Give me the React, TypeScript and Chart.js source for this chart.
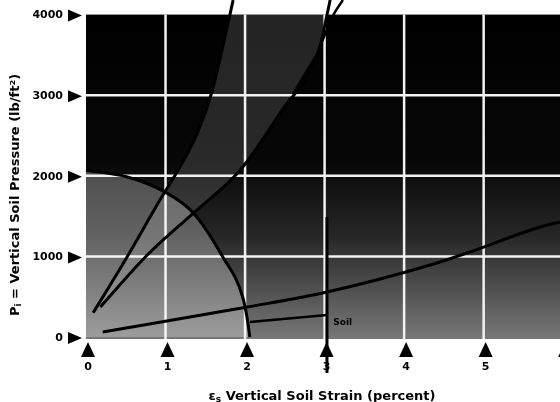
import React, { useEffect, useRef } from "react";
import { Chart, registerables } from "chart.js";
Chart.register(...registerables);

// Axis ticks
const xTicks = [0, 1, 2, 3, 4, 5, 6];
const xTickLabels = ["0", "1", "2", "3", "4", "5", ""];
const yTicks = [0, 1000, 2000, 3000, 4000];
const yTickLabels = ["0", "1000", "2000", "3000", "4000"];

// Curves (strain %, pressure lb/ft²)
const steepX = [0.09, 0.52, 0.93, 1.18, 1.4, 1.58, 1.71, 1.81, 1.85];
const steepP = [300, 1000, 1700, 2110, 2530, 3030, 3560, 4000, 4180];

const midX = [0.18, 0.77, 1.35, 1.94, 2.44, 2.94, 3.03, 3.07];
const midP = [372, 1017, 1538, 2072, 2779, 3598, 3995, 4181];

const branchX = [2.94, 3.11, 3.23];
const branchP = [3598, 3995, 4181];

const archX = [0, 0.52, 0.99, 1.35, 1.72, 1.97, 2.03, 2.06];
const archP = [2070, 1985, 1800, 1538, 993, 496, 211, 0];

const lowX = [0.21, 2.03, 3.03, 4.33, 4.79, 5.71, 5.96];
const lowP = [62, 372, 558, 893, 1042, 1365, 1427];

const soilX = [2.06, 3.03];
const soilP = [186, 273];
const soilLabel = "Soil";

const vertX = [3.03, 3.03];
const vertP = [1490, -447];

const xTitle = "Vertical Soil Strain (percent)";
const yTitle = " = Vertical Soil Pressure (lb/ft²)";

const pts = (xs: number[], ps: number[]) => xs.map((x, i) => ({ x, y: ps[i] }));

const FONT = "'DejaVu Sans', 'Liberation Sans', Arial, sans-serif";

const decor = {
  id: "decor",
  beforeDatasetsDraw(chart: any) {
    const { ctx, scales } = chart;
    const xs = scales.x, ys = scales.y;
    const left = xs.getPixelForValue(0);
    const right = xs.getPixelForValue(6.5);
    const top = ys.getPixelForValue(4000);
    const bottom = ys.getPixelForValue(0) + 2;
    ctx.save();
    const g = ctx.createLinearGradient(0, top, 0, bottom);
    g.addColorStop(0, "#000000");
    g.addColorStop(0.45, "#070707");
    g.addColorStop(0.68, "#262626");
    g.addColorStop(0.84, "#4e4e4e");
    g.addColorStop(1, "#787878");
    ctx.fillStyle = g;
    ctx.fillRect(left, top, right - left, bottom - top);

    // lighter speckled band between the two rising curves
    ctx.beginPath();
    steepX.forEach((x, i) => {
      const px = xs.getPixelForValue(x), py = ys.getPixelForValue(Math.min(steepP[i], 4000));
      if (i === 0) ctx.moveTo(px, py); else ctx.lineTo(px, py);
    });
    for (let i = midX.length - 1; i >= 0; i--) {
      ctx.lineTo(xs.getPixelForValue(midX[i]), ys.getPixelForValue(Math.min(midP[i], 4000)));
    }
    ctx.closePath();
    ctx.fillStyle = "rgba(150,150,150,0.24)";
    ctx.fill();

    // white grid
    ctx.strokeStyle = "#f2f2f2";
    ctx.lineWidth = 2.5;
    for (let v = 1; v <= 6; v++) {
      const px = xs.getPixelForValue(v);
      ctx.beginPath();
      ctx.moveTo(px, top);
      ctx.lineTo(px, bottom);
      ctx.stroke();
    }
    for (let v = 1000; v <= 3000; v += 1000) {
      const py = ys.getPixelForValue(v);
      ctx.beginPath();
      ctx.moveTo(left, py);
      ctx.lineTo(right, py);
      ctx.stroke();
    }
    ctx.restore();
  },
  afterDraw(chart: any) {
    const { ctx, scales } = chart;
    const xs = scales.x, ys = scales.y;
    ctx.save();
    ctx.fillStyle = "#000";
    // y ticks: right-pointing triangles + labels
    ctx.font = `bold 11px ${FONT}`;
    ctx.textAlign = "right";
    ctx.textBaseline = "middle";
    yTicks.forEach((v, i) => {
      const py = ys.getPixelForValue(v) + 1;
      ctx.beginPath();
      ctx.moveTo(68, py - 6);
      ctx.lineTo(82, py);
      ctx.lineTo(68, py + 6);
      ctx.closePath();
      ctx.fill();
      ctx.fillText(yTickLabels[i], 63, py);
    });
    // x ticks: up-pointing triangles + labels
    ctx.textAlign = "center";
    xTicks.forEach((v, i) => {
      const px = xs.getPixelForValue(v) + 2;
      ctx.beginPath();
      ctx.moveTo(px - 7, 357);
      ctx.lineTo(px, 342);
      ctx.lineTo(px + 7, 357);
      ctx.closePath();
      ctx.fill();
      if (xTickLabels[i]) ctx.fillText(xTickLabels[i], px, 367);
    });

    // Soil label
    ctx.font = `bold 9px ${FONT}`;
    ctx.textAlign = "left";
    ctx.fillText(soilLabel, xs.getPixelForValue(3.11), ys.getPixelForValue(174));

    // x title
    ctx.textBaseline = "alphabetic";
    ctx.textAlign = "left";
    const big = `bold 13px ${FONT}`;
    const small = `bold 9px ${FONT}`;
    ctx.font = big;
    const wEps = ctx.measureText("ε").width;
    const wMain = ctx.measureText(" " + xTitle).width;
    ctx.font = small;
    const wS = ctx.measureText("s").width;
    let x0 = 322 - (wEps + wS + wMain) / 2;
    const base = 400;
    ctx.font = big;
    ctx.fillText("ε", x0, base);
    ctx.font = small;
    ctx.fillText("s", x0 + wEps, base + 2);
    ctx.font = big;
    ctx.fillText(" " + xTitle, x0 + wEps + wS, base);

    // y title (rotated)
    ctx.translate(19, 195);
    ctx.rotate(-Math.PI / 2);
    ctx.font = big;
    const wP = ctx.measureText("P").width;
    const wRest = ctx.measureText(yTitle).width;
    ctx.font = small;
    const wI = ctx.measureText("i").width;
    let y0 = -(wP + wI + wRest) / 2;
    ctx.font = big;
    ctx.fillText("P", y0, 0);
    ctx.font = small;
    ctx.fillText("i", y0 + wP, 2);
    ctx.font = big;
    ctx.fillText(yTitle, y0 + wP + wI, 0);
    ctx.restore();
  },
};

export default function App() {
  const ref = useRef<HTMLCanvasElement>(null);
  useEffect(() => {
    const canvas = ref.current!;
    const line = (data: any, extra: any = {}) => ({
      data,
      borderColor: "#000",
      borderWidth: 3,
      pointRadius: 0,
      showLine: true,
      fill: false,
      clip: false,
      cubicInterpolationMode: "monotone",
      ...extra,
    });
    // Chart.js paints the last dataset first, so the filled arch goes last
    const chart = new Chart(canvas, {
      type: "line",
      data: {
        datasets: [
          line(pts(steepX, steepP)),
          line(pts(midX, midP)),
          line(pts(branchX, branchP), { borderWidth: 2.5 }),
          line(pts(lowX, lowP)),
          line(pts(soilX, soilP), { borderWidth: 2.5 }),
          line(pts(vertX, vertP), { cubicInterpolationMode: "default", tension: 0, borderWidth: 3 }),
          line(pts(archX, archP), { fill: "origin", backgroundColor: "rgba(255,255,255,0.28)" }),
        ] as any,
      },
      options: {
        responsive: false,
        animation: false,
        devicePixelRatio: 1,
        layout: { padding: { left: 86, top: 0, right: 0, bottom: 65 } },
        plugins: { legend: { display: false }, tooltip: { enabled: false }, title: { display: false } },
        scales: {
          x: { type: "linear", min: 0, max: 5.96, display: false },
          y: { type: "linear", min: 0, max: 4181, display: false },
        },
      } as any,
      plugins: [decor],
    });
    return () => chart.destroy();
  }, []);
  return (
    <div style={{ position: "fixed", left: 0, top: 0, width: 560, height: 402, background: "#fff" }}>
      <canvas ref={ref} width={560} height={402} style={{ display: "block" }} />
    </div>
  );
}
